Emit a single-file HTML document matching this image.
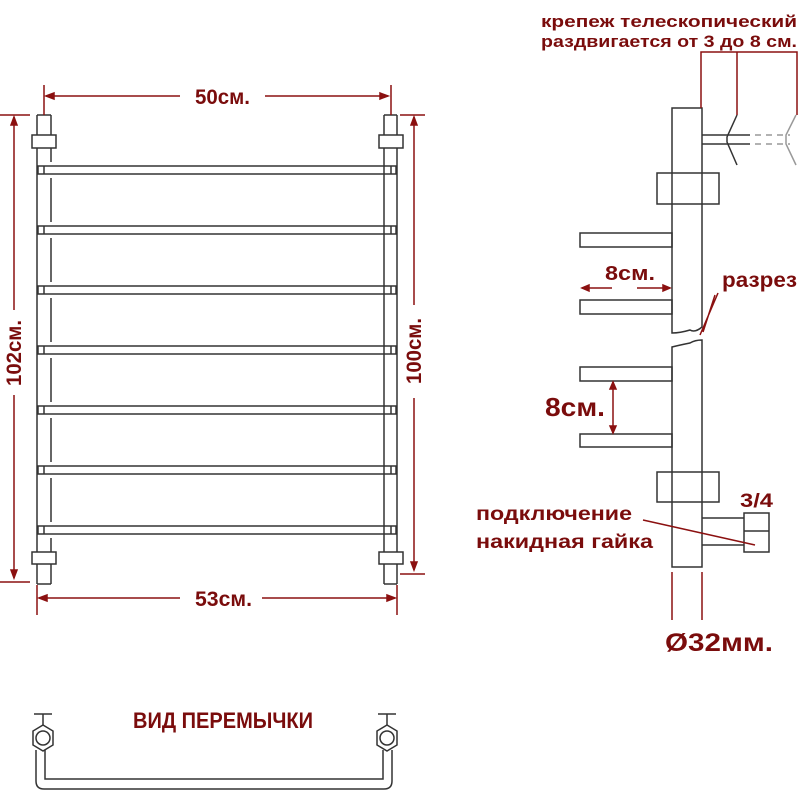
<!DOCTYPE html>
<html><head><meta charset="utf-8"><style>
html,body{margin:0;padding:0;background:#fff;}
svg{display:block;}
.t{font-family:"Liberation Sans","DejaVu Sans",sans-serif;font-weight:bold;fill:#7a0c0c;}
</style></head><body>
<svg width="800" height="800" viewBox="0 0 800 800" xmlns="http://www.w3.org/2000/svg">
<g fill="none" stroke="#333" stroke-width="1.5">
  <line x1="37" y1="115" x2="37" y2="584"/>
  <line x1="37" y1="115" x2="51" y2="115"/>
  <line x1="37" y1="584" x2="51" y2="584"/>
  <line x1="384" y1="115" x2="384" y2="584"/>
  <line x1="397" y1="115" x2="397" y2="584"/>
  <line x1="384" y1="115" x2="397" y2="115"/>
  <line x1="384" y1="584" x2="397" y2="584"/>
  <path d="M51 115V162M51 178V222M51 238V282M51 298V342M51 358V402M51 418V462M51 478V522M51 538V584"/>
  <rect x="32" y="135" width="24" height="13" fill="#fff"/>
  <rect x="379" y="135" width="24" height="13" fill="#fff"/>
  <rect x="32" y="552" width="24" height="12" fill="#fff"/>
  <rect x="379" y="552" width="24" height="12" fill="#fff"/>
  <g>
   <rect x="38" y="166" width="358" height="8"/><rect x="38" y="226" width="358" height="8"/>
   <rect x="38" y="286" width="358" height="8"/><rect x="38" y="346" width="358" height="8"/>
   <rect x="38" y="406" width="358" height="8"/><rect x="38" y="466" width="358" height="8"/>
   <rect x="38" y="526" width="358" height="8"/>
  </g>
  <path d="M44 166v8M391 166v8M44 226v8M391 226v8M44 286v8M391 286v8M44 346v8M391 346v8M44 406v8M391 406v8M44 466v8M391 466v8M44 526v8M391 526v8"/>
  <path d="M36 750V781Q36 789 44 789H384Q392 789 392 781V750"/>
  <path d="M45 750V779H383V750"/>
  <polygon points="43,725 53,731 53,745 43,751 33,745 33,731" fill="#fff"/>
  <circle cx="43" cy="738" r="7"/>
  <path d="M43 714V725M34 714H52"/>
  <polygon points="387,725 397,731 397,745 387,751 377,745 377,731" fill="#fff"/>
  <circle cx="387" cy="738" r="7"/>
  <path d="M387 714V725M378 714H396"/>
  <path d="M672 108H702V327Q695 333 690 330Q680 333 672 333Z" fill="#fff"/>
  <path d="M672 347Q680 345 690 343Q695 340 702 340V567H672Z" fill="#fff"/>
  <rect x="657" y="173" width="62" height="31"/>
  <rect x="657" y="472" width="62" height="30"/>
  <rect x="580" y="233" width="92" height="14"/>
  <rect x="580" y="300" width="92" height="14"/>
  <rect x="580" y="367" width="92" height="14"/>
  <rect x="580" y="434" width="92" height="13"/>
  <path d="M702 135H750M702 144H750"/>
  <path d="M737 115L727 137V142L737 165"/>
  <path d="M702 518H744M702 545H744"/>
  <rect x="744" y="513" width="25" height="39"/>
  <line x1="744" y1="531" x2="769" y2="531"/>
</g>
<g fill="none" stroke="#999" stroke-width="1.5">
  <path d="M755 135H790M755 144H790" stroke-dasharray="6 5"/>
  <path d="M796 115L786 135V144L796 165"/>
</g>
<g stroke="#8b1010" stroke-width="1.5" fill="none">
  <path d="M44 85V115M391 85V115M46 96H180M265 96H388"/>
  <path d="M46 96l8-3v6zM388 96l-8-3v6z" fill="#8b1010"/>
  <path d="M37 585V615M397 585V615M39 598H180M262 598H395"/>
  <path d="M39 598l8-3v6zM395 598l-8-3v6z" fill="#8b1010"/>
  <path d="M0 115H30M0 582H30M14 117V310M14 395V578"/>
  <path d="M14 117l-3 8h6zM14 578l-3-8h6z" fill="#8b1010"/>
  <path d="M400 115H425M400 574H425M414 117V305M414 398V570"/>
  <path d="M414 117l-3 8h6zM414 570l-3-8h6z" fill="#8b1010"/>
  <path d="M701 108V52H797V115M737 52V115"/>
  <path d="M582 288H612M637 288H670"/>
  <path d="M582 288l7-3v6zM670 288l-7-3v6z" fill="#8b1010"/>
  <path d="M613 382V433"/>
  <path d="M613 382l-3 7h6zM613 433l-3-7h6z" fill="#8b1010"/>
  <path d="M718 293L700 335M715 295L703 332"/>
  <path d="M643 520L755 545"/>
  <path d="M672 572V620M702 572V620"/>
</g>
<g class="t">
  <text x="195" y="104" font-size="21" textLength="55" lengthAdjust="spacingAndGlyphs">50см.</text>
  <text x="195" y="606" font-size="21" textLength="57" lengthAdjust="spacingAndGlyphs">53см.</text>
  <text transform="translate(21,386) rotate(-90)" font-size="21" textLength="66" lengthAdjust="spacingAndGlyphs">102см.</text>
  <text transform="translate(421,384) rotate(-90)" font-size="21" textLength="66" lengthAdjust="spacingAndGlyphs">100см.</text>
  <text x="133" y="728" font-size="22" textLength="180" lengthAdjust="spacingAndGlyphs">ВИД ПЕРЕМЫЧКИ</text>
  <text x="541" y="27" font-size="17" textLength="256" lengthAdjust="spacingAndGlyphs">крепеж телескопический</text>
  <text x="541" y="47" font-size="17" textLength="256" lengthAdjust="spacingAndGlyphs">раздвигается от 3 до 8 см.</text>
  <text x="605" y="280" font-size="20" textLength="50" lengthAdjust="spacingAndGlyphs">8см.</text>
  <text x="722" y="287" font-size="21" textLength="75" lengthAdjust="spacingAndGlyphs">разрез</text>
  <text x="545" y="416" font-size="26" textLength="60" lengthAdjust="spacingAndGlyphs">8см.</text>
  <text x="740" y="507" font-size="19" textLength="33" lengthAdjust="spacingAndGlyphs">3/4</text>
  <text x="476" y="520" font-size="19" textLength="156" lengthAdjust="spacingAndGlyphs">подключение</text>
  <text x="476" y="548" font-size="19" textLength="177" lengthAdjust="spacingAndGlyphs">накидная гайка</text>
  <text x="665" y="651" font-size="25" textLength="108" lengthAdjust="spacingAndGlyphs">Ø32мм.</text>
</g>
</svg>
</body></html>
